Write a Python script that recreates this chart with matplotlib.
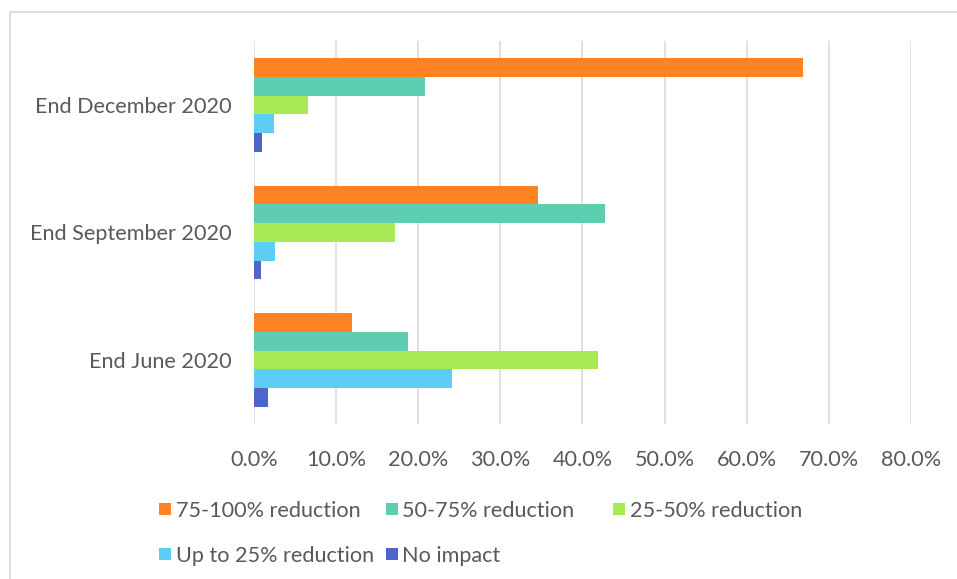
import matplotlib
matplotlib.use("Agg")
import matplotlib.pyplot as plt
from matplotlib.patches import Rectangle
import numpy as np

# Categories, top to bottom
periods = ["End December 2020", "End September 2020", "End June 2020"]

# Share of respondents per impact band (fraction), ordered as periods above
series_names = ["75-100% reduction", "50-75% reduction", "25-50% reduction",
                "Up to 25% reduction", "No impact"]
reduction_75_100 = [0.668, 0.346, 0.120]
reduction_50_75 = [0.209, 0.428, 0.188]
reduction_25_50 = [0.066, 0.172, 0.419]
reduction_up_to_25 = [0.025, 0.026, 0.241]
no_impact = [0.010, 0.009, 0.018]

x_ticks = [0.0, 0.1, 0.2, 0.3, 0.4, 0.5, 0.6, 0.7, 0.8]
x_tick_labels = ["0.0%", "10.0%", "20.0%", "30.0%", "40.0%",
                 "50.0%", "60.0%", "70.0%", "80.0%"]

colors = ["#FF8323", "#5ECEB0", "#A8EA54", "#5DCDF3", "#5065CB"]
text_color = "#595959"
grid_color = "#D9D9D9"
font_size = 15.6

plt.rcParams["font.family"] = ["Lato", "DejaVu Sans"]

W, H = 957, 579
fig = plt.figure(figsize=(W / 100, H / 100), dpi=100)
fig.patch.set_facecolor("white")

def fx(px):
    return px / W

def fy(py):
    return 1 - py / H

# Outer chart-area frame
fig.add_artist(Rectangle((fx(10), fy(600)), fx(960) - fx(10), fy(12) - fy(600),
                         transform=fig.transFigure, fill=False,
                         edgecolor=grid_color, linewidth=1.2))

left, right, top, bottom = 253.7, 911.2, 41.2, 423.8
ax = fig.add_axes([fx(left), fy(bottom), fx(right) - fx(left), fy(top) - fy(bottom)])

all_series = [reduction_75_100, reduction_50_75, reduction_25_50,
              reduction_up_to_25, no_impact]
n_series = len(all_series)
bar_h = 0.1464
n_cat = len(periods)
centers = np.arange(n_cat)[::-1].astype(float)  # first period at top

for i, (vals, name, col) in enumerate(zip(all_series, series_names, colors)):
    offset = (n_series - 1) / 2 - i
    ax.barh(centers + offset * bar_h, vals, height=bar_h, color=col,
            label=name, zorder=3, edgecolor="none")

ax.set_xlim(0, 0.8)
ax.set_ylim(-0.5, n_cat - 0.5)
ax.set_xticks(x_ticks)
ax.set_xticklabels(x_tick_labels)
ax.set_yticks(centers)
ax.set_yticklabels(periods)
ax.grid(axis="x", color=grid_color, linewidth=1.1, zorder=0)
ax.set_axisbelow(True)
for s in ax.spines.values():
    s.set_visible(False)
ax.tick_params(axis="both", length=0, colors=text_color, labelsize=font_size)
ax.tick_params(axis="x", pad=19)
ax.tick_params(axis="y", pad=16)

# Legend laid out in two rows, drawn as swatches with labels
legend_pos = [(159, 509), (385.5, 509), (612.5, 509), (159, 554), (385.5, 554)]
sw = 12
for (px, py), name, col in zip(legend_pos, series_names, colors):
    fig.add_artist(Rectangle((fx(px), fy(py + sw / 2)), fx(sw), fy(0) - fy(sw),
                             transform=fig.transFigure, facecolor=col,
                             edgecolor="none"))
    fig.text(fx(px + sw + 5), fy(py), name, color=text_color, fontsize=font_size,
             va="center_baseline", ha="left")

fig.savefig("out.png", dpi=100, facecolor="white")
